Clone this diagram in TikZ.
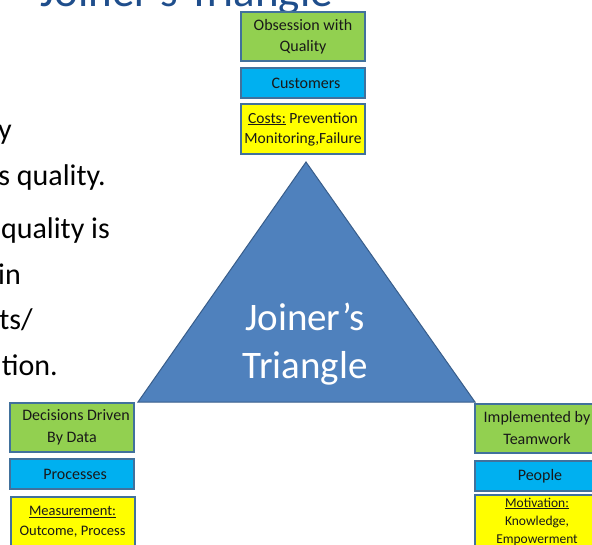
\documentclass[tikz,border=0pt]{standalone}
\usepackage{fontspec}
\setmainfont{Carlito}
\definecolor{titleblue}{HTML}{1F4E8C}
\definecolor{trifill}{HTML}{4F81BD}
\definecolor{triline}{HTML}{385D8A}
\definecolor{boxline}{HTML}{41719C}
\definecolor{qgreen}{HTML}{92D050}
\definecolor{qblue}{HTML}{00B0F0}
\definecolor{qyellow}{HTML}{FFFF00}
\begin{document}
\begin{tikzpicture}[x=1pt,y=-1pt,
  box/.style={draw=boxline, line width=2pt, inner sep=0pt, align=center,
    text=black!90, minimum width=124pt},
  goalbox/.style={box, fill=qgreen, minimum height=49pt},
  areabox/.style={box, fill=qblue, minimum height=30pt},
  toolbox/.style={box, fill=qyellow, minimum height=51pt},
  bodytext/.style={anchor=base east, inner sep=0pt, text=black,
    font=\fontsize{30}{36}\selectfont},
]
\useasboundingbox (0,0) rectangle (592,545);
\clip (0,0) rectangle (592,545);

% slide title, running off the top edge
\node[anchor=base west, inner sep=0pt, text=titleblue,
  font=\fontsize{45}{54}\selectfont] (title) at (40,7) {Joiner’s Triangle};

% body text, running off the left edge
\node[bodytext] (b1) at (12,140) {y};
\node[bodytext] (b2) at (106,186) {s quality.};
\node[bodytext] (b3) at (110,239) {quality is};
\node[bodytext] (b4) at (21,285) {in};
\node[bodytext] (b5) at (33,330) {ts/};
\node[bodytext] (b6) at (58,376) {tion.};

% the triangle
\coordinate (apex) at (306,162);
\coordinate (bl) at (138,402);
\coordinate (br) at (475,402);
\filldraw[fill=trifill, draw=triline, line width=1pt, line join=miter]
  (apex) -- (bl) -- (br) -- cycle;
\node[text=white, align=center, font=\fontsize{39}{48}\selectfont]
  (tritext) at (305,344) {Joiner’s\\Triangle};

% top corner
\node[goalbox, font=\fontsize{16}{21}\selectfont] (topgoal) at (303,37)
  {Obsession with\\Quality};
\node[areabox, font=\fontsize{16}{20}\selectfont] (toparea) at (303,83)
  {\hspace{6pt}Customers};
\node[toolbox, minimum height=50pt, font=\fontsize{15.5}{20}\selectfont] (toptool) at (303,129)
  {\underline{Costs:} Prevention\\Monitoring,Failure};

% left corner
\node[goalbox, font=\fontsize{16}{22}\selectfont] (leftgoal) at (72,427.5)
  {\hspace{8pt}Decisions Driven\\By Data};
\node[areabox, font=\fontsize{16}{20}\selectfont] (leftarea) at (72,474)
  {\hspace{6pt}Processes};
\node[toolbox, minimum height=50pt, font=\fontsize{14.5}{20}\selectfont] (lefttool) at (72.5,522)
  {\underline{Measurement:}\\Outcome, Process};

% right corner
\node[goalbox, font=\fontsize{16}{22}\selectfont] (rightgoal) at (537,428.5)
  {Implemented by\\Teamwork};
\node[areabox, font=\fontsize{16}{20}\selectfont] (rightarea) at (537,476)
  {\hspace{6pt}People};
\node[toolbox, minimum height=53pt, font=\fontsize{13.5}{18}\selectfont] (righttool) at (537,521.5)
  {\underline{Motivation:}\\Knowledge,\\Empowerment};
\end{tikzpicture}
\end{document}
